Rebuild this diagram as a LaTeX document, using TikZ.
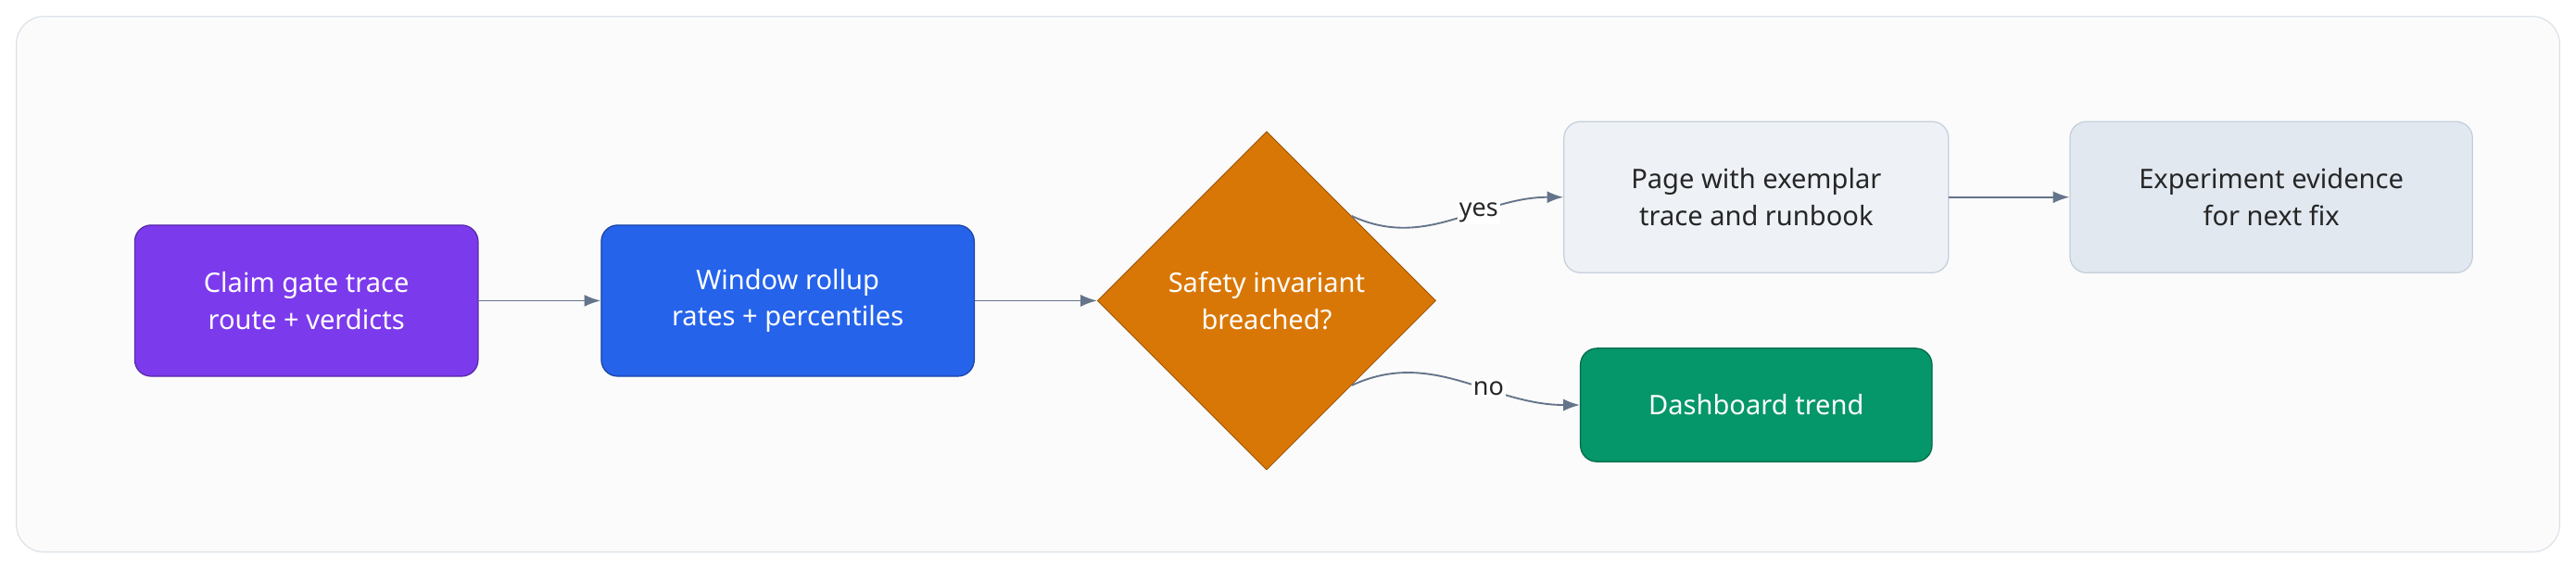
\documentclass[tikz,border=0pt]{standalone}
\usepackage{fontspec}
\setmainfont{Noto Sans}
\usepackage{tikz}
\usetikzlibrary{positioning,shapes.geometric,arrows.meta}
\definecolor{edgegray}{HTML}{64748B}
\definecolor{framegray}{HTML}{DDE3EA}
\definecolor{purplebox}{HTML}{7C3AED}
\definecolor{bluebox}{HTML}{2563EB}
\definecolor{orangebox}{HTML}{D97706}
\definecolor{greenbox}{HTML}{059669}
\definecolor{pagebox}{HTML}{EEF2F7}
\definecolor{evidbox}{HTML}{E2E8F0}
\definecolor{lightline}{HTML}{C5CFDB}
\tikzset{
	stepbox/.style={rectangle, rounded corners=0.3cm, minimum height=2.76cm, align=center, font=\fontsize{14}{19}\selectfont, line width=0.6pt},
	darkbox/.style={stepbox, text=white},
	lightbox/.style={stepbox, draw=lightline, text=black!85},
	flow/.style={-{Latex[length=0.3cm,width=0.22cm]}, draw=edgegray, line width=0.9pt},
	edgelabel/.style={font=\fontsize{13}{15}\selectfont, text=black!85, fill=white, inner sep=1pt},
}
\begin{document}
\begin{tikzpicture}[x=0.03cm, y=-0.03cm]
	\useasboundingbox (0,0) rectangle (1568,346);
	\filldraw[fill=gray!3, draw=framegray, line width=0.6pt, rounded corners=0.5cm] (10,10) rectangle (1558,336);
	
	\node[darkbox, fill=purplebox, draw=purplebox!70!black, minimum width=6.27cm] (claim) at (186.5,183) {Claim gate trace\\route + verdicts};
	\node[darkbox, fill=bluebox, draw=bluebox!70!black, minimum width=6.81cm] (rollup) at (479.5,183) {Window rollup\\rates + percentiles};
	\node[diamond, aspect=1, inner sep=0pt, minimum width=6.18cm, minimum height=6.18cm, fill=orangebox, draw=orangebox!70!black, text=white, align=center, font=\fontsize{14}{19}\selectfont] (safety) at (771,183) {Safety invariant\\breached?};
	\node[lightbox, fill=pagebox, minimum width=7.02cm] (page) at (1069,120) {Page with exemplar\\trace and runbook};
	\node[lightbox, fill=evidbox, minimum width=7.35cm] (evidence) at (1382.5,120) {Experiment evidence\\for next fix};
	\node[darkbox, fill=greenbox, draw=greenbox!70!black, minimum width=6.42cm, minimum height=2.07cm] (trend) at (1069,246.5) {Dashboard trend};
	
	\draw[flow] (claim) -- (rollup);
	\draw[flow] (rollup) -- (safety);
	\draw[flow] (safety.north east) to[out=-25, in=180] node[edgelabel, pos=0.62] {yes} (page.west);
	\draw[flow] (safety.south east) to[out=25, in=180] node[edgelabel, pos=0.62] {no} (trend.west);
	\draw[flow] (page) -- (evidence);
\end{tikzpicture}
\end{document}
